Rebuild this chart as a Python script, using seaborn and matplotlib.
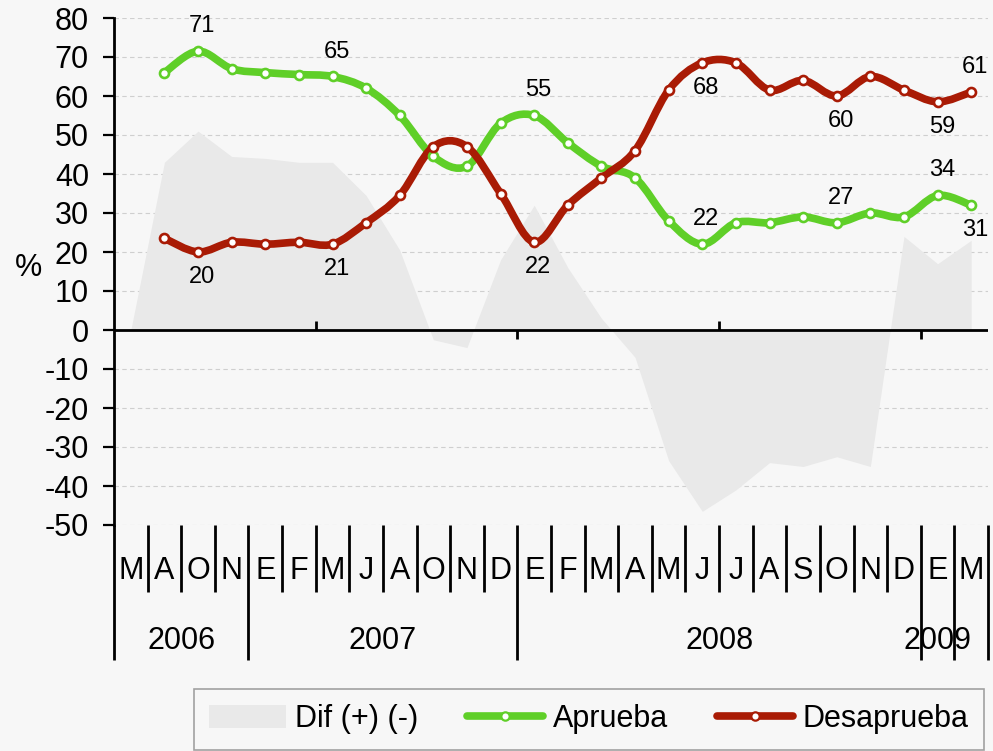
import numpy as np
import pandas as pd
import matplotlib
matplotlib.use("Agg")
import matplotlib.pyplot as plt
import seaborn as sns
from matplotlib.path import Path
from matplotlib.patches import PathPatch, Patch
from matplotlib.lines import Line2D
import matplotlib.transforms as mtransforms

# ---------------- data ----------------
months = ['M', 'A', 'O', 'N', 'E', 'F', 'M', 'J', 'A', 'O', 'N', 'D',
          'E', 'F', 'M', 'A', 'M', 'J', 'J', 'A', 'S', 'O', 'N', 'D', 'E', 'M']
years = ['2006', '2007', '2008', '2009']

# Aprueba / Desaprueba start at the second month (A 2006)
aprueba = [66, 71.5, 67, 66, 65.5, 65, 62, 55, 44.5, 42, 53, 55, 48, 42, 39,
           28, 22, 27.5, 27.5, 29, 27.5, 30, 29, 34.5, 32]
desaprueba = [23.5, 20, 22.5, 22, 22.5, 22, 27.5, 34.5, 47, 47, 35, 22.5, 32,
              39, 46, 61.5, 68.5, 68.5, 61.5, 64, 60, 65, 61.5, 58.5, 61]
dif = [0, 43, 51, 44.5, 44, 43, 43, 34.5, 20.5, -2.5, -4.5, 18, 32, 16, 3, -7,
       -33.5, -46.5, -41, -34, -35, -32.5, -35, 24, 17, 23]

apr_label_idx = [1, 5, 11, 16, 20, 23, 24]
apr_label_txt = ['71', '65', '55', '22', '27', '34', '31']
apr_label_side = [1, 1, 1, 1, 1, 1, -1]
des_label_idx = [1, 5, 11, 16, 20, 23, 24]
des_label_txt = ['20', '21', '22', '68', '60', '59', '61']
des_label_side = [-1, -1, -1, -1, -1, -1, 1]

# ---------------- layout / style ----------------
BG = '#f7f7f7'
GREEN = '#5fcf28'
RED = '#a91b05'
AREA = '#e9e9e9'
FS = 22

year_pos = [1.5, 7.5, 17.5, 24.0]          # category units
long_bounds = {0, 4, 12, 24, 25, 26}
axis_ticks = [(6, 1), (12, -1), (18, 1), (24, -1)]

sns.set_theme(style='white')
plt.rcParams['font.family'] = ['Liberation Sans', 'DejaVu Sans']
plt.rcParams['axes.unicode_minus'] = False
plt.rcParams['text.color'] = 'black'
plt.rcParams['xtick.color'] = 'black'
plt.rcParams['ytick.color'] = 'black'
plt.rcParams['xtick.labelcolor'] = 'black'
plt.rcParams['ytick.labelcolor'] = 'black'

n_cat = len(months)
cat_x = np.arange(n_cat)
line_x = np.arange(1, n_cat)

df = pd.DataFrame({'x': line_x, 'Aprueba': aprueba, 'Desaprueba': desaprueba})

fig = plt.figure(figsize=(9.93, 7.51), dpi=100, facecolor=BG)
ax = fig.add_axes([114 / 993, 1 - 525 / 751, 874 / 993, 507 / 751])
ax.set_facecolor(BG)

# area
ax.fill_between(cat_x, 0, dif, color=AREA, lw=0, zorder=1)


def smooth_path(xs, ys):
    pts = np.column_stack([xs, ys]).astype(float)
    n = len(pts)
    verts = [pts[0]]
    codes = [Path.MOVETO]
    for i in range(n - 1):
        p0 = pts[i - 1] if i > 0 else pts[i]
        p1 = pts[i]
        p2 = pts[i + 1]
        p3 = pts[i + 2] if i + 2 < n else pts[i + 1]
        c1 = p1 + (p2 - p0) / 6.0
        c2 = p2 - (p3 - p1) / 6.0
        verts += [c1, c2, p2]
        codes += [Path.CURVE4] * 3
    return Path(verts, codes)


for col, colr in [('Aprueba', GREEN), ('Desaprueba', RED)]:
    patch = PathPatch(smooth_path(df['x'], df[col]), fill=False, edgecolor=colr,
                      lw=5.5, capstyle='round', joinstyle='round', zorder=3)
    ax.add_patch(patch)
    sns.scatterplot(data=df, x='x', y=col, ax=ax, color='white', edgecolor=colr,
                    linewidth=1.9, s=42, zorder=4, legend=False)

# data labels
for idxs, txts, sides, series in [(apr_label_idx, apr_label_txt, apr_label_side, aprueba),
                                  (des_label_idx, des_label_txt, des_label_side, desaprueba)]:
    for i, t, s in zip(idxs, txts, sides):
        ax.annotate(t, (line_x[i], series[i]), xytext=(3, 18 * s),
                    textcoords='offset points', ha='center', va='center',
                    fontsize=17, color='black', zorder=5)

# zero line
ax.axhline(0, color='black', lw=2, zorder=2)
for b, d in axis_ticks:
    ax.plot([b - 0.5, b - 0.5], [0, 2.4 * d], color='black', lw=2, zorder=2,
            solid_capstyle='butt')

ax.set_xlim(-0.5, n_cat - 0.5)
ax.set_ylim(-50, 80)
ax.set_yticks(np.arange(-50, 81, 10))
ax.set_xticks(cat_x)
ax.set_xticklabels(months)
ax.tick_params(axis='x', length=0, pad=22, labelsize=FS, labelcolor='black')
ax.tick_params(axis='y', length=8, width=1.6, direction='out', color='black',
               pad=10, labelsize=FS, left=True, labelcolor='black')
ax.set_xlabel('')
ax.set_ylabel('')

ax.yaxis.grid(True, color='#cfcfcf', lw=0.8, ls=(0, (4, 3)))
ax.set_axisbelow(True)
for s in ['top', 'right', 'bottom']:
    ax.spines[s].set_visible(False)
ax.spines['left'].set_color('black')
ax.spines['left'].set_linewidth(2)

# category table separators
trans = mtransforms.blended_transform_factory(ax.transData, ax.transAxes)
for k in range(n_cat + 1):
    y_end = -0.266 if k in long_bounds else -0.132
    ax.plot([k - 0.5, k - 0.5], [0, y_end], transform=trans, color='black',
            lw=2, clip_on=False, solid_capstyle='butt')
for yp, yl in zip(year_pos, years):
    ax.text(yp, -0.2436, yl, transform=trans, ha='center', va='baseline',
            fontsize=FS, color='black')

fig.text(28 / 993, 1 - 268 / 751, '%', fontsize=FS, ha='center', va='center',
         color='black')

handles = [Patch(facecolor=AREA, edgecolor='none'),
           Line2D([], [], color=GREEN, lw=5.5, marker='o', markersize=6,
                  markerfacecolor='white', markeredgecolor=GREEN,
                  markeredgewidth=1.6, solid_capstyle='round'),
           Line2D([], [], color=RED, lw=5.5, marker='o', markersize=6,
                  markerfacecolor='white', markeredgecolor=RED,
                  markeredgewidth=1.6, solid_capstyle='round')]
leg = fig.legend(handles, ['Dif (+) (-)', 'Aprueba', 'Desaprueba'],
                 loc='upper left', bbox_to_anchor=(194 / 993, 1 - 689 / 751),
                 ncol=3, fontsize=FS, frameon=True, fancybox=False,
                 handlelength=2.5, handleheight=0.75, handletextpad=0.3,
                 columnspacing=1.6, borderpad=0.5, borderaxespad=0)
leg.get_frame().set_edgecolor('#8c8c8c')
leg.get_frame().set_facecolor(BG)
leg.get_frame().set_linewidth(1.2)
for t in leg.get_texts():
    t.set_color('black')

fig.savefig('out.png', dpi=100, facecolor=BG)
